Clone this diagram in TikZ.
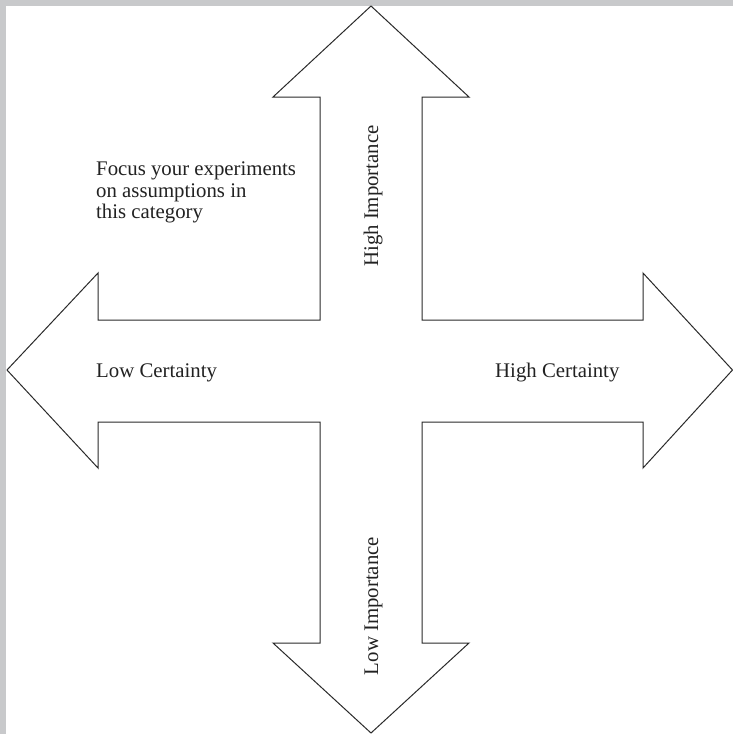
\documentclass[tikz,border=0pt]{standalone}
\usepackage{fontspec}
\setmainfont{Liberation Serif}
\definecolor{framegray}{HTML}{C8C9CB}
\definecolor{inkline}{HTML}{2A2A2A}
\definecolor{inktext}{HTML}{222222}
\begin{document}
\begin{tikzpicture}[x=1pt,y=-1pt,
  lbl/.style={inner sep=0pt, text=inktext, font=\fontsize{20.8}{21.5}\selectfont},
  crossline/.style={draw=inkline, line width=1pt, line join=miter}]
\useasboundingbox (0,0) rectangle (733,734);
\fill[framegray] (0,0) rectangle (733,734);
\fill[white] (6,6) rectangle (733,734);
% cross outline
\coordinate (a1) at (320,320);
\coordinate (a2) at (320,97);
\coordinate (a3) at (273,97);
\coordinate (upTip) at (371,6);
\coordinate (a5) at (469,97);
\coordinate (a6) at (422,97);
\coordinate (a7) at (422,320);
\coordinate (a8) at (643,320);
\coordinate (a9) at (643,273);
\coordinate (rightTip) at (732.5,370);
\coordinate (a11) at (643,468);
\coordinate (a12) at (643,422);
\coordinate (a13) at (422,422);
\coordinate (a14) at (422,643);
\coordinate (a15) at (469,643);
\coordinate (downTip) at (371,733);
\coordinate (a17) at (273,643);
\coordinate (a18) at (320,643);
\coordinate (a19) at (320,422);
\coordinate (a20) at (98,422);
\coordinate (a21) at (98,468);
\coordinate (leftTip) at (7,370);
\coordinate (a23) at (98,273);
\coordinate (a24) at (98,320);
\draw[crossline] (a1) -- (a2) -- (a3) -- (upTip) -- (a5) -- (a6) -- (a7) -- (a8) -- (a9) -- (rightTip) -- (a11) -- (a12) -- (a13) -- (a14) -- (a15) -- (downTip) -- (a17) -- (a18) -- (a19) -- (a20) -- (a21) -- (leftTip) -- (a23) -- (a24) -- cycle;
% labels
\node[lbl, anchor=base west] (lowc) at (96,377) {Low Certainty};
\node[lbl, anchor=base west] (highc) at (495,377) {High Certainty};
\node[lbl, anchor=base, rotate=90] (highi) at (378,196) {High Importance};
\node[lbl, anchor=base, rotate=90] (lowi) at (378,606) {Low Importance};
\node[lbl, anchor=north west, align=left] (focus) at (96,162) {Focus your experiments\\on assumptions in\\this category};
\end{tikzpicture}
\end{document}
